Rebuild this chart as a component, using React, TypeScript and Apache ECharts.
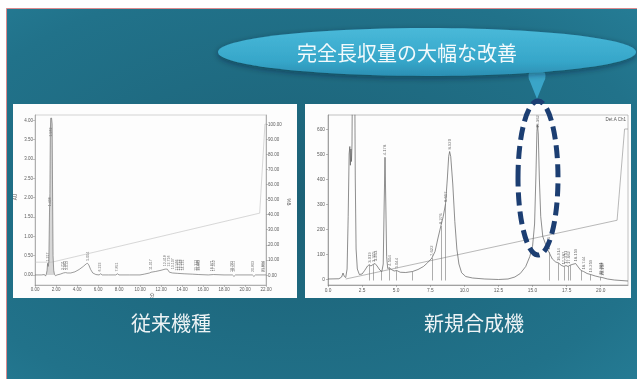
import { useEffect, useRef } from "react";
import * as echarts from "echarts";

const W = 637;
const H = 379;

// ---- 従来機種 : UV trace (min, AU) ----
const convTrace: [number, number][] = [
  [0, 0], [0.6, 0], [0.9, 0.01], [1.0, -0.03], [1.08, 0.02], [1.15, 0.12], [1.2, 0.3],
  [1.26, 0.22], [1.32, 0.35], [1.38, 1.6], [1.42, 2.1], [1.46, 3.7], [1.5, 4.05],
  [1.58, 4.05], [1.63, 3.9], [1.68, 1.9], [1.72, 0.5], [1.78, 0.12], [1.85, 0.02],
  [1.95, -0.02], [2.1, 0], [2.4, 0.02], [2.7, 0.05], [2.9, 0.06], [3.1, 0.05], [3.4, 0.05],
  [3.8, 0.08], [4.2, 0.14], [4.6, 0.22], [4.9, 0.29], [5.0, 0.3], [5.12, 0.26], [5.3, 0.14],
  [5.5, 0.05], [5.8, 0.01], [6.1, 0], [6.25, 0.03], [6.4, 0], [7.0, 0], [7.7, 0],
  [7.85, 0.03], [8.0, 0], [9.0, 0], [10.0, 0], [10.4, 0.02], [10.9, 0.05], [11.05, 0.07],
  [11.5, 0.09], [12.0, 0.12], [12.4, 0.15], [12.6, 0.15], [12.8, 0.07], [13.1, 0.05],
  [13.6, 0.04], [14.2, 0.03], [15.0, 0.02], [15.6, 0.01], [16.5, 0], [17.0, 0.01],
  [18.0, 0], [18.8, 0], [18.95, -0.04], [19.1, 0], [20.0, 0], [20.7, 0], [20.85, -0.04],
  [21.0, 0], [22, 0],
];
// shaded solvent-front peak
const convFrontPeak: [number, number][] = [
  [1.08, 0.02], [1.15, 0.12], [1.2, 0.3], [1.26, 0.22], [1.32, 0.35], [1.38, 1.6],
  [1.42, 2.1], [1.46, 3.7], [1.5, 4.05], [1.58, 4.05], [1.63, 3.9], [1.68, 1.9],
  [1.72, 0.5], [1.78, 0.12], [1.85, 0.02],
];
// %B gradient program
const convGradient: [number, number][] = [[0, 8.5], [1.6, 8.5], [21.4, 41], [21.9, 100], [22, 100]];
// peak retention-time labels and the height where each label starts (AU)
const convPeakRT = [
  "1.217", "1.436", "1.562", "2.711", "2.862", "3.013", "5.004", "6.223", "7.851", "11.017",
  "12.418", "12.716", "13.107", "13.566", "13.752", "13.948", "14.131", "15.312", "15.486",
  "15.662", "16.871", "17.052", "18.783", "18.951", "20.803", "21.694", "21.855",
];
const convLabelAt = [
  0.32, 1.75, 3.55, 0.1, 0.1, 0.1, 0.34, 0.06, 0.06, 0.1, 0.2, 0.19, 0.12, 0.09, 0.09, 0.09,
  0.09, 0.08, 0.08, 0.08, 0.07, 0.07, 0.05, 0.05, 0.05, 0.05, 0.05,
];
const convXTicks = [0, 2, 4, 6, 8, 10, 12, 14, 16, 18, 20, 22];
const convYTicks = [0, 0.5, 1, 1.5, 2, 2.5, 3, 3.5, 4];
const convPctTicks = [0, 10, 20, 30, 40, 50, 60, 70, 80, 90, 100];

// ---- 新規合成機 : detector trace (min, mV) ----
const newTrace: [number, number][] = [
  [0, 0], [0.8, 1], [1.0, 8], [1.1, 24], [1.2, 10], [1.3, 6], [1.4, 40], [1.48, 250],
  [1.55, 500], [1.6, 530], [1.64, 455], [1.68, 520], [1.72, 470], [1.76, 540], [1.8, 900],
  [1.95, 900], [2.0, 400], [2.06, 120], [2.15, 40], [2.3, 18], [2.5, 20], [2.7, 35],
  [2.9, 52], [3.02, 57], [3.15, 52], [3.3, 58], [3.45, 62], [3.6, 52], [3.8, 36], [3.95, 30],
  [4.05, 60], [4.12, 300], [4.18, 487], [4.24, 300], [4.3, 90], [4.38, 42], [4.5, 45],
  [4.65, 38], [4.85, 32], [5.04, 34], [5.3, 27], [5.7, 26], [6.2, 30], [6.6, 38], [7.0, 50],
  [7.3, 65], [7.62, 84], [7.85, 110], [8.05, 160], [8.276, 212], [8.45, 250], [8.617, 300],
  [8.75, 400], [8.85, 490], [8.92, 510], [9.0, 490], [9.15, 380], [9.3, 230], [9.45, 120],
  [9.6, 60], [9.8, 25], [10.1, 10], [10.6, 4], [11.5, 0], [12.5, -2], [13.2, 0], [13.7, 8],
  [14.1, 22], [14.5, 50], [14.8, 90], [15.0, 130], [15.15, 220], [15.25, 420], [15.32, 590],
  [15.362, 617], [15.42, 580], [15.5, 400], [15.6, 250], [15.75, 170], [15.95, 140],
  [16.1, 118], [16.2, 108], [16.45, 80], [16.7, 68], [16.91, 64], [17.1, 55], [17.3, 50],
  [17.45, 54], [17.6, 50], [17.75, 55], [17.9, 58], [18.16, 62], [18.35, 48], [18.55, 34],
  [18.744, 30], [19.0, 22], [19.259, 18], [19.6, 12], [19.9, 8], [20.1, 6], [20.5, 0],
  [21.0, -4], [22, -8],
];
const newGradient: [number, number][] = [[1.3, 0], [21.2, 235], [21.75, 600], [22, 600]];
// integration drop lines
const newDropRT = [3.02, 3.3, 3.9, 4.5, 5.04, 6.2, 7.62, 8.276, 8.617, 16.2, 16.91, 17.3, 17.6, 17.8, 18.6, 19.2, 20.0];
const newDropTop = [57, 58, 32, 45, 34, 30, 84, 212, 300, 108, 64, 50, 50, 55, 33, 19, 7];
// peak labels and apex heights
const newPeakRT = [
  "3.019", "3.315", "3.463", "4.178", "4.504", "5.044", "7.622", "8.276", "8.617", "8.920",
  "15.362", "16.196", "16.914", "17.287", "17.451", "17.662", "18.159", "18.744", "19.259",
  "19.981", "20.062", "20.157",
];
const newPeakApex = [57, 60, 63, 487, 45, 34, 84, 212, 300, 510, 617, 108, 64, 50, 54, 52, 62, 30, 18, 8, 7, 6];
const newXTicks = [0, 2.5, 5, 7.5, 10, 12.5, 15, 17.5, 20];
const newYTicks = [0, 100, 200, 300, 400, 500, 600];

const NEW_YMAX = 656;
const SMALL = "Liberation Sans";
const JP = "'Noto Sans CJK JP', 'Noto Sans CJK SC', sans-serif";

function axisText(size: number) {
  return { fontFamily: SMALL, fontSize: size, color: "#5a5a5a" };
}

function buildOption(): echarts.EChartsOption {
  const convLabels = convPeakRT.map((s, i) => [Number(s), convLabelAt[i]]);
  const newLabels = newPeakRT.map((s, i) => {
    const apex = newPeakApex[i];
    if (apex + 50 > NEW_YMAX) {
      return { value: [Number(s), NEW_YMAX - 72], label: { offset: [4, 0] } };
    }
    return { value: [Number(s), apex + 4] };
  });

  const tinyLabel = (list: string[], size: number) => ({
    show: true,
    position: "top" as const,
    distance: 1,
    rotate: 90,
    align: "left" as const,
    verticalAlign: "middle" as const,
    fontFamily: SMALL,
    fontSize: size,
    color: "#4a4a4a",
    formatter: (p: any) => list[p.dataIndex],
  });

  return {
    animation: false,
    graphic: [
      {
        type: "rect",
        z: -3,
        shape: { x: 6.5, y: 8.5, width: 640, height: 380 },
        style: {
          fill: new echarts.graphic.RadialGradient(0.45, 0.5, 1.15, [
            { offset: 0, color: "#1c6176" },
            { offset: 0.5, color: "#21728a" },
            { offset: 1, color: "#2f96b2" },
          ]),
          stroke: "#d98a8e",
          lineWidth: 1,
        },
      },
      { type: "rect", z: -1, shape: { x: 13, y: 104, width: 284, height: 194 }, style: { fill: "#fdfdfd" } },
      { type: "rect", z: -1, shape: { x: 305, y: 104, width: 326, height: 194 }, style: { fill: "#fdfdfd" } },
      // speech pointer
      { type: "circle", z: 30, shape: { cx: 537, cy: 76, r: 8.5 }, style: { fill: "#3aa5c8" } },
      {
        type: "polygon",
        z: 30,
        shape: { points: [[528.6, 78], [545.4, 78], [537, 99]] },
        style: { fill: "#3aa5c8" },
      },
      {
        type: "ellipse",
        z: 31,
        shape: { cx: 427, cy: 52, rx: 209, ry: 24 },
        style: {
          fill: new echarts.graphic.LinearGradient(0, 0, 0, 1, [
            { offset: 0, color: "#49b9d9" },
            { offset: 0.7, color: "#36a6c9" },
            { offset: 1, color: "#2b8fb3" },
          ]),
          shadowBlur: 6,
          shadowOffsetY: 2,
          shadowColor: "rgba(0,30,45,0.45)",
        },
      },
      {
        type: "text",
        z: 32,
        x: 407,
        y: 52,
        style: {
          text: "完全長収量の大幅な改善",
          fill: "#f3fafc",
          fontFamily: JP,
          fontSize: 20,
          align: "center",
          verticalAlign: "middle",
        },
      },
      // highlight of the 15.362 min peak
      {
        type: "ellipse",
        z: 40,
        shape: { cx: 538, cy: 178, rx: 20, ry: 77 },
        style: { fill: "none", stroke: "#1c3e72", lineWidth: 5, lineDash: [13, 6] },
      },
      {
        type: "text",
        z: 5,
        x: 171,
        y: 322,
        style: { text: "従来機種", fill: "#edf3f5", fontFamily: JP, fontSize: 20, align: "center", verticalAlign: "middle" },
      },
      {
        type: "text",
        z: 5,
        x: 474,
        y: 322,
        style: { text: "新規合成機", fill: "#edf3f5", fontFamily: JP, fontSize: 20, align: "center", verticalAlign: "middle" },
      },
      // axis captions
      {
        type: "text", z: 5, x: 15, y: 197, rotation: Math.PI / 2,
        style: { text: "AU", fill: "#555", fontFamily: SMALL, fontSize: 4.5, align: "center", verticalAlign: "middle" },
      },
      {
        type: "text", z: 5, x: 288, y: 202, rotation: -Math.PI / 2,
        style: { text: "%B", fill: "#555", fontFamily: SMALL, fontSize: 4.5, align: "center", verticalAlign: "middle" },
      },
      {
        type: "text", z: 5, x: 152, y: 295,
        style: { text: "分", fill: "#555", fontFamily: JP, fontSize: 4.5, align: "center", verticalAlign: "middle" },
      },
      {
        type: "text", z: 5, x: 626, y: 119,
        style: { text: "Det.A Ch1", fill: "#555", fontFamily: SMALL, fontSize: 4.5, align: "right", verticalAlign: "middle" },
      },
    ],
    grid: [
      { left: 35, top: 115, width: 231, height: 170, show: true, borderColor: "#b8b8b8", borderWidth: 0.6, backgroundColor: "transparent" },
      { left: 328, top: 115, width: 300, height: 170, show: true, borderColor: "#9a9a9a", borderWidth: 0.6, backgroundColor: "transparent" },
    ],
    xAxis: [
      {
        type: "value", gridIndex: 0, min: 0, max: 22,
        axisLine: { onZero: false, lineStyle: { color: "#888", width: 0.6 } },
        axisTick: { customValues: convXTicks, length: 2, lineStyle: { color: "#888", width: 0.5 } },
        axisLabel: { customValues: convXTicks, margin: 2, ...axisText(4.5), formatter: (v: number) => v.toFixed(2) },
        splitLine: { show: false },
      },
      {
        type: "value", gridIndex: 1, min: 0, max: 22,
        axisLine: { onZero: false, lineStyle: { color: "#777", width: 0.6 } },
        axisTick: { customValues: newXTicks, length: 2, lineStyle: { color: "#777", width: 0.5 } },
        axisLabel: { customValues: newXTicks, margin: 3, ...axisText(4.8), formatter: (v: number) => v.toFixed(1) },
        splitLine: { show: false },
      },
    ],
    yAxis: [
      {
        type: "value", gridIndex: 0, min: -0.26, max: 4.13,
        axisLine: { show: true, onZero: false, lineStyle: { color: "#888", width: 0.6 } },
        axisTick: { show: true, customValues: convYTicks, length: 2, lineStyle: { color: "#888", width: 0.5 } },
        axisLabel: { customValues: convYTicks, margin: 2, ...axisText(4.5), formatter: (v: number) => v.toFixed(2) },
        splitLine: { show: false },
      },
      {
        type: "value", gridIndex: 0, position: "right", min: -6.6, max: 106,
        axisLine: { show: true, onZero: false, lineStyle: { color: "#888", width: 0.6 } },
        axisTick: { show: true, customValues: convPctTicks, length: 2, lineStyle: { color: "#888", width: 0.5 } },
        axisLabel: { customValues: convPctTicks, margin: 2, ...axisText(4.5), formatter: (v: number) => v.toFixed(2) },
        splitLine: { show: false },
      },
      {
        type: "value", gridIndex: 1, min: -24, max: NEW_YMAX,
        axisLine: { show: true, onZero: false, lineStyle: { color: "#777", width: 0.6 } },
        axisTick: { show: true, customValues: newYTicks, length: 2, lineStyle: { color: "#777", width: 0.5 } },
        axisLabel: { customValues: newYTicks, margin: 3, ...axisText(4.8) },
        splitLine: { show: false },
      },
    ],
    series: [
      {
        type: "line", xAxisIndex: 0, yAxisIndex: 1, data: convGradient, symbol: "none",
        lineStyle: { color: "#bdbdbd", width: 0.6 }, silent: true,
      },
      {
        type: "line", xAxisIndex: 0, yAxisIndex: 0, data: convFrontPeak, symbol: "none", z: 1,
        lineStyle: { width: 0 }, areaStyle: { color: "#c6c6c6", origin: 0 }, silent: true,
      },
      {
        type: "line", xAxisIndex: 0, yAxisIndex: 0, data: convTrace, symbol: "none",
        lineStyle: { color: "#727272", width: 0.7 }, silent: true,
      },
      {
        type: "scatter", xAxisIndex: 0, yAxisIndex: 0, data: convLabels, symbolSize: 0,
        label: tinyLabel(convPeakRT, 3.6), silent: true,
      },
      {
        type: "line", xAxisIndex: 1, yAxisIndex: 2, data: newGradient, symbol: "none",
        lineStyle: { color: "#8a8a8a", width: 0.6 }, silent: true,
      },
      {
        type: "line", xAxisIndex: 1, yAxisIndex: 2, data: newTrace, symbol: "none",
        lineStyle: { color: "#5e5e5e", width: 0.7 }, silent: true,
        markLine: {
          silent: true,
          symbol: ["none", "none"],
          label: { show: false },
          lineStyle: { color: "#777", width: 0.6, type: "solid" },
          data: newDropRT.map((t, i) => [{ coord: [t, -6] }, { coord: [t, newDropTop[i]] }]) as any,
        },
      },
      {
        type: "scatter", xAxisIndex: 1, yAxisIndex: 2, data: newLabels as any, symbolSize: 0,
        label: tinyLabel(newPeakRT, 4.2), silent: true,
      },
    ],
  };
}

export default function App() {
  const ref = useRef<HTMLDivElement>(null);
  useEffect(() => {
    if (!ref.current) return;
    const chart = echarts.init(ref.current, undefined, { renderer: "svg", width: W, height: H });
    chart.setOption(buildOption());
    return () => chart.dispose();
  }, []);
  return <div ref={ref} style={{ position: "fixed", left: 0, top: 0, width: W, height: H }} />;
}
